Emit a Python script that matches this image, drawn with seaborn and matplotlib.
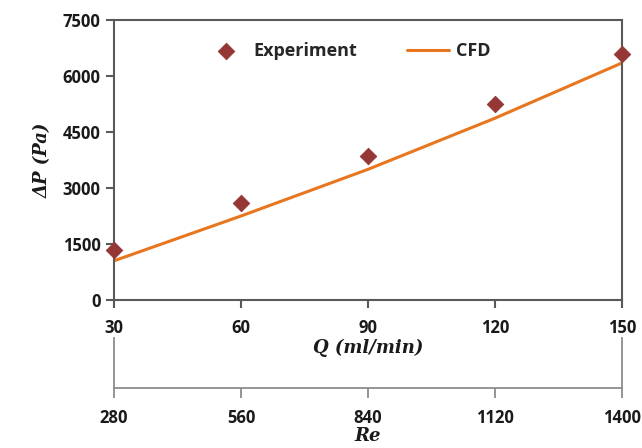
"""Pressure drop vs flow rate: experiment vs CFD, with a secondary Re axis."""

import matplotlib.pyplot as plt
import pandas as pd
import seaborn as sns

q_flow = [30, 60, 90, 120, 150]
dp_experiment = [1350, 2600, 3850, 5250, 6600]
dp_cfd = [1050, 2250, 3500, 4870, 6350]
re_ticks = [280, 560, 840, 1120, 1400]
y_ticks = [0, 1500, 3000, 4500, 6000, 7500]

MARKER_COLOR = "#953735"
LINE_COLOR = "#E8761E"
AXIS_COLOR = "#595959"

sns.set_style("white")
plt.rcParams["font.family"] = ["Open Sans", "DejaVu Sans"]

df = pd.DataFrame({"Q": q_flow, "exp": dp_experiment, "cfd": dp_cfd})

fig = plt.figure(figsize=(6.42, 4.48), dpi=100)
ax = fig.add_axes([114 / 642, 1 - 300 / 448, 508 / 642, 280 / 448])

sns.lineplot(data=df, x="Q", y="cfd", color=LINE_COLOR, lw=2.2, ax=ax,
             label="CFD", zorder=2)
sns.scatterplot(data=df, x="Q", y="exp", marker="D", s=70, color=MARKER_COLOR,
                edgecolor=MARKER_COLOR, ax=ax, label="Experiment", zorder=3,
                clip_on=False)

ax.set_xlim(30, 150)
ax.set_ylim(0, 7500)
ax.set_xticks(q_flow)
ax.set_yticks(y_ticks)
tick_font = dict(fontsize=12, fontweight="bold", color="#1a1a1a")
ax.set_xticklabels([str(v) for v in q_flow], **tick_font)
ax.set_yticklabels([str(v) for v in y_ticks], **tick_font)
ax.tick_params(axis="both", direction="out", length=6, width=1.5,
               color=AXIS_COLOR, bottom=True, left=True)
ax.tick_params(axis="x", pad=8)
for sp in ax.spines.values():
    sp.set_color(AXIS_COLOR)
    sp.set_linewidth(1.5)

label_font = dict(family=["DejaVu Serif"], fontsize=13, fontweight="bold",
                  style="italic", color="#1a1a1a")
ax.set_xlabel("Q (ml/min)", labelpad=1, **label_font)
ax.set_ylabel("ΔP (Pa)", labelpad=8, **label_font)

handles, labels = ax.get_legend_handles_labels()
order = [labels.index("Experiment"), labels.index("CFD")]
ax.legend([handles[i] for i in order], [labels[i] for i in order], ncol=2,
          loc="upper center", bbox_to_anchor=(0.46, 0.98), frameon=False,
          columnspacing=2.75, handlelength=2.3, handletextpad=0.4,
          prop=dict(size=13, weight="bold"))

# secondary Reynolds-number axis
ax2 = fig.add_axes([114 / 642, 1 - 388 / 448, 508 / 642, 50 / 448])
ax2.set_xlim(re_ticks[0], re_ticks[-1])
ax2.set_xticks(re_ticks)
ax2.set_xticklabels([str(v) for v in re_ticks], **tick_font)
ax2.set_yticks([])
ax2.patch.set_alpha(0)
ax2.spines["top"].set_visible(False)
for side in ["left", "right", "bottom"]:
    ax2.spines[side].set_color("#8c8c8c")
    ax2.spines[side].set_linewidth(1.3)
ax2.tick_params(axis="x", direction="out", length=7, width=1.3,
                color="#8c8c8c", pad=8, bottom=True)
ax2.set_xlabel("Re", labelpad=0, **label_font)

fig.savefig("out.png", dpi=100)
